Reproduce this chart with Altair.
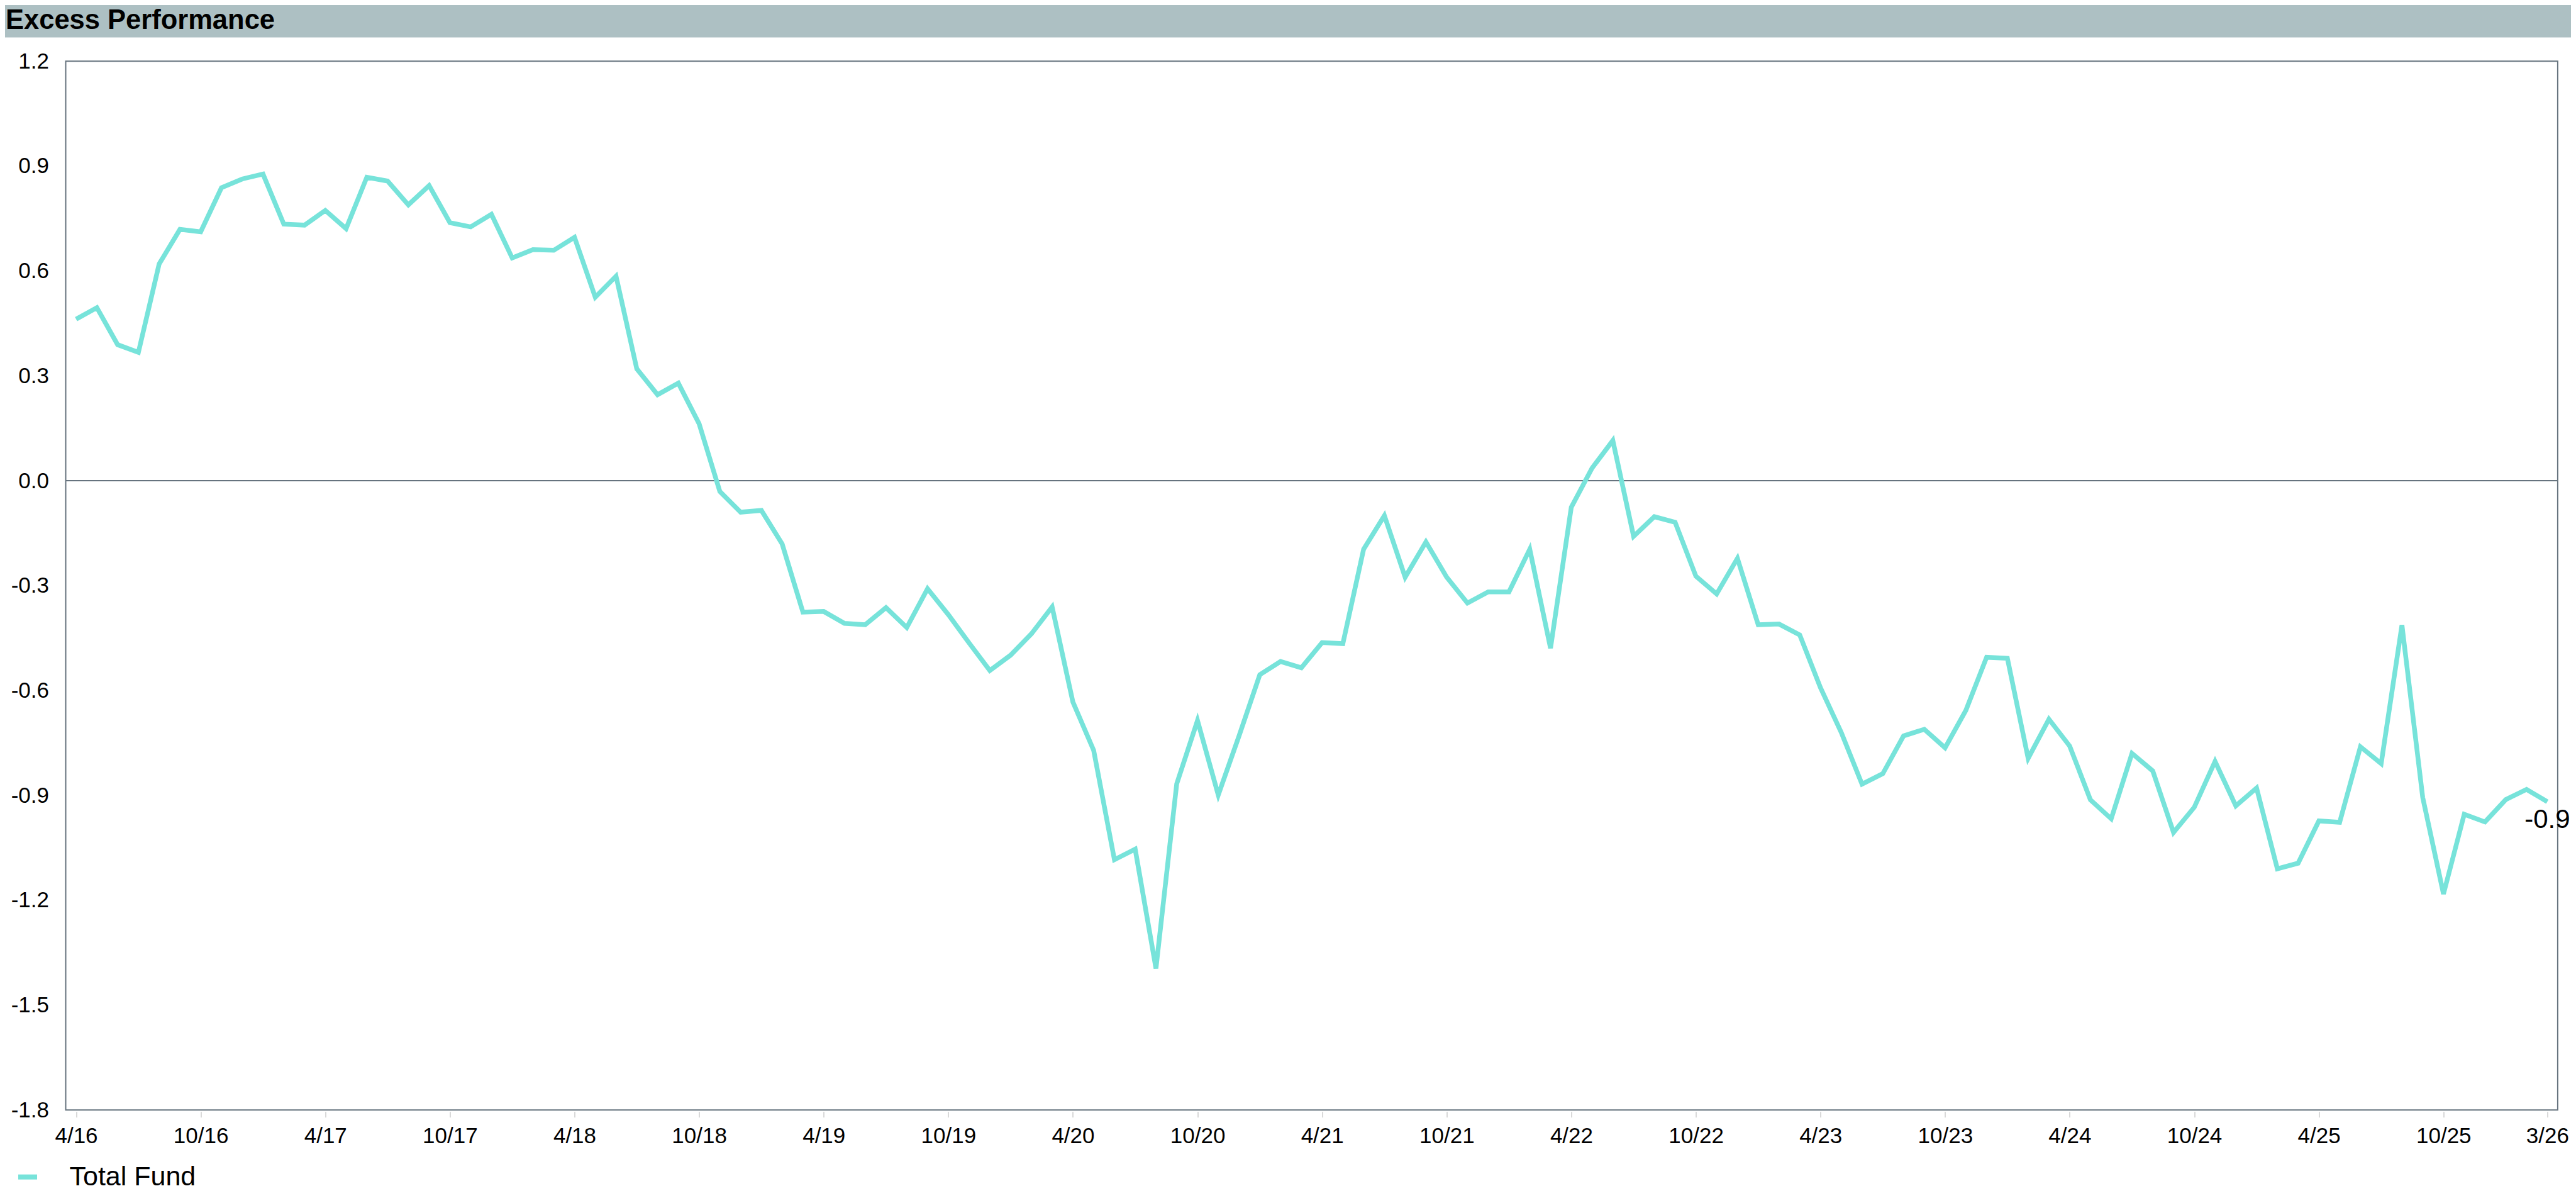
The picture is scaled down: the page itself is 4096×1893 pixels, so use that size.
import altair as alt
import pandas as pd

TITLE = "Excess Performance"
SERIES = "Total Fund"

MONTHS = [
    "4/16", "5/16", "6/16", "7/16", "8/16", "9/16", "10/16", "11/16", "12/16",
    "1/17", "2/17", "3/17", "4/17", "5/17", "6/17", "7/17", "8/17", "9/17", "10/17", "11/17", "12/17",
    "1/18", "2/18", "3/18", "4/18", "5/18", "6/18", "7/18", "8/18", "9/18", "10/18", "11/18", "12/18",
    "1/19", "2/19", "3/19", "4/19", "5/19", "6/19", "7/19", "8/19", "9/19", "10/19", "11/19", "12/19",
    "1/20", "2/20", "3/20", "4/20", "5/20", "6/20", "7/20", "8/20", "9/20", "10/20", "11/20", "12/20",
    "1/21", "2/21", "3/21", "4/21", "5/21", "6/21", "7/21", "8/21", "9/21", "10/21", "11/21", "12/21",
    "1/22", "2/22", "3/22", "4/22", "5/22", "6/22", "7/22", "8/22", "9/22", "10/22", "11/22", "12/22",
    "1/23", "2/23", "3/23", "4/23", "5/23", "6/23", "7/23", "8/23", "9/23", "10/23", "11/23", "12/23",
    "1/24", "2/24", "3/24", "4/24", "5/24", "6/24", "7/24", "8/24", "9/24", "10/24", "11/24", "12/24",
    "1/25", "2/25", "3/25", "4/25", "5/25", "6/25", "7/25", "8/25", "9/25", "10/25", "11/25", "12/25",
    "1/26", "2/26", "3/26",
]

TOTAL_FUND = [
    0.462, 0.495, 0.389, 0.367, 0.620, 0.719, 0.712, 0.838, 0.863, 0.877,
    0.734, 0.731, 0.773, 0.721, 0.868, 0.857, 0.789, 0.844, 0.738, 0.726,
    0.762, 0.637, 0.661, 0.659, 0.696, 0.525, 0.585, 0.320, 0.246, 0.279,
    0.163, -0.031, -0.090, -0.085, -0.181, -0.376, -0.374, -0.408, -0.412, -0.363,
    -0.420, -0.309, -0.383, -0.464, -0.543, -0.499, -0.438, -0.361, -0.633, -0.771,
    -1.084, -1.054, -1.395, -0.867, -0.686, -0.899, -0.730, -0.555, -0.517, -0.535,
    -0.463, -0.466, -0.196, -0.100, -0.276, -0.175, -0.276, -0.350, -0.318, -0.318,
    -0.196, -0.479, -0.076, 0.036, 0.115, -0.159, -0.103, -0.119, -0.273, -0.324,
    -0.222, -0.412, -0.410, -0.441, -0.592, -0.720, -0.868, -0.838, -0.730, -0.711,
    -0.764, -0.657, -0.505, -0.508, -0.794, -0.682, -0.759, -0.913, -0.967, -0.780,
    -0.830, -1.006, -0.934, -0.803, -0.930, -0.879, -1.110, -1.094, -0.973, -0.977,
    -0.761, -0.809, -0.413, -0.906, -1.182, -0.954, -0.976, -0.912, -0.883, -0.918,
]

X_TICKS = ["4/16", "10/16", "4/17", "10/17", "4/18", "10/18", "4/19", "10/19",
           "4/20", "10/20", "4/21", "10/21", "4/22", "10/22", "4/23", "10/23",
           "4/24", "10/24", "4/25", "10/25", "3/26"]
Y_TICKS = [-1.8, -1.5, -1.2, -0.9, -0.6, -0.3, 0.0, 0.3, 0.6, 0.9, 1.2]
ZERO = [0.0]

FONT = "Liberation Sans"
LINE_COLOR = "#77e3da"
BAR_COLOR = "#adc0c3"
FRAME_COLOR = "#66737e"

# layout (pixels)
W, H = 3962.4, 1667.1
PAD_L, PAD_T = 96.5, 89.2
TOTAL_W, TOTAL_H = 4080, 1885
PAD_R = TOTAL_W - PAD_L - W
PAD_B = TOTAL_H - PAD_T - H

df = pd.DataFrame({"month": MONTHS, "value": TOTAL_FUND, "series": SERIES})
last = df.tail(1)

x_enc = alt.X(
    "month:O",
    sort=MONTHS,
    scale=alt.Scale(type="point", padding=0.5),
    axis=alt.Axis(
        values=X_TICKS, labelAngle=0, title=None, domain=False, grid=False,
        ticks=True, tickColor="#d9d9d9", tickWidth=2, tickSize=9, offset=2.5,
        labelPadding=12.8, labelFontSize=35, labelFont=FONT, labelColor="#000000",
    ),
)
y_enc = alt.Y(
    "value:Q",
    scale=alt.Scale(domain=[-1.8, 1.2], nice=False, zero=False),
    axis=alt.Axis(
        values=Y_TICKS, format=".1f", title=None, domain=False, grid=False,
        ticks=False, labelPadding=27, labelFontSize=35, labelFont=FONT,
        labelColor="#000000",
    ),
)

line = alt.Chart(df).mark_line(strokeWidth=7.5, strokeJoin="miter").encode(
    x=x_enc,
    y=y_enc,
    color=alt.Color(
        "series:N",
        scale=alt.Scale(domain=[SERIES], range=[LINE_COLOR]),
        legend=alt.Legend(
            title=None, orient="none", legendX=-82, legendY=1752,
            symbolType="stroke", symbolStrokeWidth=8, symbolSize=900,
            labelFontSize=43, labelFont=FONT, labelColor="#000000",
            labelOffset=45, labelLimit=0, padding=0,
        ),
    ),
)

zero = alt.Chart(pd.DataFrame({"y": ZERO})).mark_rule(
    color=FRAME_COLOR, strokeWidth=2
).encode(y="y:Q")

end_label = alt.Chart(last).mark_text(
    align="center", baseline="middle", dy=29, fontSize=42, font=FONT,
    color="#000000",
).encode(x=x_enc, y=y_enc, text=alt.Text("value:Q", format=".1f"))

title_df = pd.DataFrame({"t": [TITLE]})
title_bar = alt.Chart(title_df).mark_rect(color=BAR_COLOR).encode(
    x=alt.value(-PAD_L), x2=alt.value(TOTAL_W - PAD_L),
    y=alt.value(-PAD_T), y2=alt.value(51.6 - PAD_T),
)
title_text = alt.Chart(title_df).mark_text(
    align="left", baseline="middle", fontSize=43.5, fontWeight="bold",
    font=FONT, color="#000000",
).encode(x=alt.value(-PAD_L + 1), y=alt.value(25 - PAD_T), text="t:N")

chart = (
    alt.layer(title_bar, title_text, zero, line, end_label)
    .properties(
        width=W, height=H,
        autosize=alt.AutoSizeParams(type="none"),
        padding={"left": PAD_L, "top": PAD_T, "right": PAD_R, "bottom": PAD_B},
        background="#ffffff",
    )
    .configure(
        locale=alt.Locale(
            number=alt.NumberLocale(
                decimal=".", thousands=",", grouping=[3], currency=["$", ""],
                minus="-",
            )
        )
    )
    .configure_view(stroke=FRAME_COLOR, strokeWidth=2)
)

chart.save("out.html", embed_options={"renderer": "svg", "actions": False})
